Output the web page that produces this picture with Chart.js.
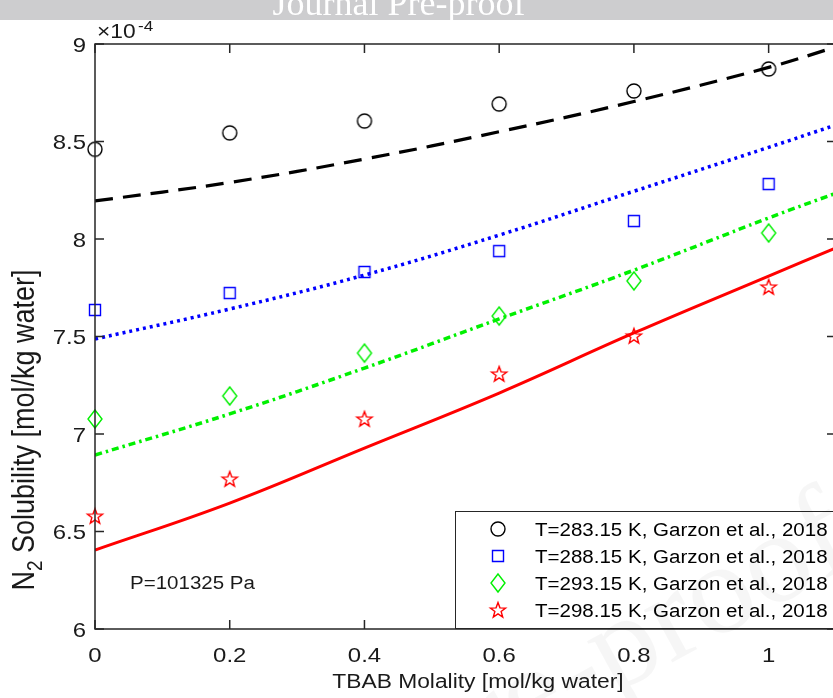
<!DOCTYPE html>
<html>
<head>
<meta charset="utf-8">
<script src="https://cdn.jsdelivr.net/npm/chart.js@4.4.1/dist/chart.umd.min.js"></script>
<style>
  html, body { margin: 0; padding: 0; background: #fff; overflow: hidden; }
  #wrap { position: relative; width: 833px; height: 698px; overflow: hidden; }
  #c { position: absolute; left: 0; top: 0; }
</style>
</head>
<body>
<div id="wrap"><canvas id="c" width="860" height="698"></canvas></div>
<script>
// ---- data (solubility in units of 1e-4 mol/kg water)
const molality = [0, 0.2, 0.4, 0.6, 0.8, 1.0];
const exp283 = [8.46, 8.544, 8.605, 8.692, 8.759, 8.872];
const exp288 = [7.636, 7.723, 7.831, 7.938, 8.092, 8.282];
const exp293 = [7.077, 7.195, 7.415, 7.605, 7.785, 8.031];
const exp298 = [6.579, 6.769, 7.077, 7.308, 7.503, 7.754];

const modelX = [0, 0.2, 0.4, 0.6, 0.8, 1.0, 1.1];
const model283 = [8.195, 8.29, 8.41, 8.55, 8.705, 8.88, 8.985];
const model288 = [7.487, 7.641, 7.815, 8.02, 8.245, 8.47, 8.585];
const model293 = [6.892, 7.103, 7.338, 7.59, 7.84, 8.108, 8.235];
const model298 = [6.405, 6.646, 6.928, 7.21, 7.518, 7.81, 7.955];

const xTicks = [0, 0.2, 0.4, 0.6, 0.8, 1];
const yTicks = [6, 6.5, 7, 7.5, 8, 8.5, 9];
const legendLabels = [
  "T=283.15 K, Garzon et al., 2018",
  "T=288.15 K, Garzon et al., 2018",
  "T=293.15 K, Garzon et al., 2018",
  "T=298.15 K, Garzon et al., 2018",
];

const FONT = '"Liberation Sans", Arial, sans-serif';
const SX = 1.14; // figure is stretched horizontally
const AX = "#262626";
const GREEN = "#00f000";

// ---- marker images
function marker(kind, color) {
  const c = document.createElement("canvas");
  c.width = 24; c.height = 24;
  const g = c.getContext("2d");
  g.strokeStyle = color; g.lineWidth = 1.4; g.lineJoin = "miter";
  g.beginPath();
  if (kind === "circle") g.arc(12, 12, 7, 0, Math.PI * 2);
  else if (kind === "square") g.rect(6.5, 6.5, 11, 11);
  else if (kind === "diamond") { g.moveTo(12, 3); g.lineTo(19, 12); g.lineTo(12, 21); g.lineTo(5, 12); g.closePath(); }
  else if (kind === "star") {
    for (let i = 0; i < 10; i++) {
      const r = i % 2 ? 3.3 : 8;
      const a = -Math.PI / 2 + i * Math.PI / 5;
      const px = 12 + r * Math.cos(a), py = 12.5 + r * Math.sin(a);
      i ? g.lineTo(px, py) : g.moveTo(px, py);
    }
    g.closePath();
  }
  g.stroke();
  return c;
}
const mk = [marker("circle", "#000"), marker("square", "#0000ff"), marker("diamond", GREEN), marker("star", "#ff0000")];

const pts = (xs, ys) => xs.map((x, i) => ({ x, y: ys[i] }));
const lineDs = (ys, color, dash, w) => ({
  type: "line", data: pts(modelX, ys), borderColor: color, borderWidth: w, borderDash: dash,
  pointRadius: 0, tension: 0.4, fill: false,
});
const markDs = (ys, img) => ({
  type: "scatter", data: pts(molality, ys), pointStyle: img, pointRadius: 8, showLine: false, clip: false,
});

function stext(ctx, s, x, y, size, align) {
  ctx.save();
  ctx.translate(x, y); ctx.scale(SX, 1);
  ctx.font = size + "px " + FONT; ctx.textAlign = align || "left"; ctx.textBaseline = "alphabetic";
  ctx.fillText(s, 0, 0);
  ctx.restore();
}

const decor = {
  id: "decor",
  afterDraw(chart) {
    const ctx = chart.ctx, a = chart.chartArea, xs = chart.scales.x, ys = chart.scales.y;
    ctx.save();
    // axes box + inward ticks
    ctx.strokeStyle = AX; ctx.lineWidth = 1.5;
    ctx.strokeRect(a.left, a.top, a.right - a.left, a.bottom - a.top);
    ctx.beginPath();
    xTicks.forEach(v => {
      const px = xs.getPixelForValue(v);
      ctx.moveTo(px, a.bottom); ctx.lineTo(px, a.bottom - 9);
      ctx.moveTo(px, a.top); ctx.lineTo(px, a.top + 9);
    });
    yTicks.forEach(v => {
      const py = ys.getPixelForValue(v);
      ctx.moveTo(a.left, py); ctx.lineTo(a.left + 9, py);
      ctx.moveTo(a.right, py); ctx.lineTo(a.right - 9, py);
    });
    ctx.stroke();

    // tick labels
    ctx.fillStyle = "#1a1a1a";
    xTicks.forEach(v => stext(ctx, String(v), xs.getPixelForValue(v), 662, 21, "center"));
    yTicks.forEach(v => stext(ctx, String(v), 86, ys.getPixelForValue(v) + 7.5, 21, "right"));

    // exponent
    stext(ctx, "\u00d710", 97, 38, 20, "left");
    stext(ctx, "-4", 138, 31, 15, "left");

    // axis titles
    stext(ctx, "TBAB Molality [mol/kg water]", 478, 688, 20, "center");
    ctx.save();
    ctx.translate(34, 430); ctx.rotate(-Math.PI / 2); ctx.scale(1, SX);
    ctx.textBaseline = "alphabetic";
    ctx.font = "27px " + FONT; const wN = ctx.measureText("N").width;
    const rest = " Solubility [mol/kg water]"; const wR = ctx.measureText(rest).width;
    ctx.font = "19px " + FONT; const w2 = ctx.measureText("2").width;
    let x0 = -(wN + w2 + wR) / 2;
    ctx.font = "27px " + FONT; ctx.fillText("N", x0, 0);
    ctx.font = "19px " + FONT; ctx.fillText("2", x0 + wN, 7);
    ctx.font = "27px " + FONT; ctx.fillText(rest, x0 + wN + w2, 0);
    ctx.restore();

    // annotation
    stext(ctx, "P=101325 Pa", 130, 589, 18, "left");

    // legend
    ctx.fillStyle = "#fff";
    ctx.fillRect(455, 511, 420, 117);
    ctx.strokeStyle = AX; ctx.lineWidth = 1;
    ctx.strokeRect(455.5, 511.5, 420, 117);
    ctx.fillStyle = "#000";
    legendLabels.forEach((s, i) => {
      const cy = 529 + i * 27;
      ctx.drawImage(mk[i], 498 - 12, cy - 12);
      stext(ctx, s, 535, cy + 7, 18, "left");
    });

    // faint watermark
    ctx.save();
    ctx.translate(860, 560); ctx.rotate(-0.5);
    ctx.fillStyle = "rgba(0,0,0,0.035)";
    ctx.font = '130px "Liberation Serif", "Times New Roman", serif';
    ctx.textAlign = "right"; ctx.fillText("Journal Pre-proof", 0, 0);
    ctx.restore();

    // header band
    ctx.fillStyle = "#cdcdcf";
    ctx.fillRect(0, 0, 860, 20);
    ctx.fillStyle = "#fff";
    ctx.font = '36px "Liberation Serif", "Times New Roman", serif';
    ctx.textAlign = "center"; ctx.textBaseline = "alphabetic";
    ctx.fillText("Journal Pre-proof", 399, 15);
    ctx.restore();
  },
};

new Chart(document.getElementById("c"), {
  data: {
    datasets: [
      lineDs(model283, "#000", [18, 10], 3.2),
      lineDs(model288, "#0000ff", [3, 4], 3.5),
      lineDs(model293, GREEN, [7, 4, 2.5, 4], 3.5),
      lineDs(model298, "#ff0000", [], 3),
      markDs(exp283, mk[0]),
      markDs(exp288, mk[1]),
      markDs(exp293, mk[2]),
      markDs(exp298, mk[3]),
    ],
  },
  options: {
    responsive: false, animation: false, events: [],
    layout: { padding: { left: 95, top: 44, right: 24, bottom: 69 } },
    plugins: { legend: { display: false }, tooltip: { enabled: false } },
    scales: {
      x: { type: "linear", min: 0, max: 1.1, display: false },
      y: { type: "linear", min: 6, max: 9, display: false },
    },
  },
  plugins: [decor],
});
</script>
</body>
</html>
